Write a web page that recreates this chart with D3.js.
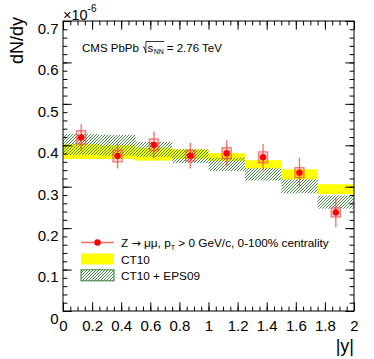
<!DOCTYPE html>
<html>
<head>
<meta charset="utf-8">
<script src="https://cdn.jsdelivr.net/npm/d3@7"></script>
<style>
  body { margin: 0; background: #fff; }
  svg { display: block; font-family: "Liberation Sans", Arial, sans-serif; }
</style>
</head>
<body>
<svg id="chart" width="374" height="359"></svg>
<script>
// data (dN/dy in units of 1e-6)
const binEdges = [0, 0.25, 0.5, 0.75, 1.0, 1.25, 1.5, 1.75, 2.0];
const dataVals = [0.419, 0.374, 0.401, 0.375, 0.381, 0.371, 0.334, 0.238];
const statErr = [0.032, 0.030, 0.032, 0.031, 0.031, 0.032, 0.036, 0.036];
const systErr = [0.016, 0.014, 0.014, 0.013, 0.013, 0.013, 0.012, 0.011];
const ct10Lo = [0.367, 0.367, 0.363, 0.367, 0.362, 0.344, 0.318, 0.282];
const ct10Hi = [0.403, 0.400, 0.394, 0.390, 0.381, 0.364, 0.342, 0.306];
const epsLo = [0.377, 0.375, 0.372, 0.357, 0.338, 0.315, 0.284, 0.247];
const epsHi = [0.427, 0.425, 0.408, 0.390, 0.370, 0.345, 0.318, 0.279];
const xTicks = [0, 0.2, 0.4, 0.6, 0.8, 1, 1.2, 1.4, 1.6, 1.8, 2];
const yTicks = [0, 0.1, 0.2, 0.3, 0.4, 0.5, 0.6, 0.7];
const legendLabels = ["Z \u2192 \u03bc\u03bc, p", "CT10", "CT10 + EPS09"];

const svg = d3.select("#chart");
const pLeft = 63, pRight = 354, pTop = 21, pBottom = 311;

const x = d3.scaleLinear().domain([0, 2]).range([pLeft, pRight]);
const y = d3.scaleLinear().domain([0, 0.7]).range([pBottom, pTop]);

// hatch pattern
const defs = svg.append("defs");
defs.append("pattern")
  .attr("id", "hatch")
  .attr("patternUnits", "userSpaceOnUse")
  .attr("width", 3)
  .attr("height", 3)
  .append("path")
  .attr("d", "M-0.75,0.75 L0.75,-0.75 M0,3 L3,0 M2.25,3.75 L3.75,2.25")
  .attr("stroke", "#2f7d32")
  .attr("stroke-width", 0.9);

const bins = d3.range(dataVals.length);

// CT10 band
svg.append("g").selectAll("rect").data(bins).join("rect")
  .attr("x", i => x(binEdges[i]))
  .attr("width", i => x(binEdges[i + 1]) - x(binEdges[i]))
  .attr("y", i => y(ct10Hi[i]))
  .attr("height", i => y(ct10Lo[i]) - y(ct10Hi[i]))
  .attr("fill", "#ffff00");

// CT10 + EPS09 hatched band
svg.append("g").selectAll("rect").data(bins).join("rect")
  .attr("x", i => x(binEdges[i]))
  .attr("width", i => x(binEdges[i + 1]) - x(binEdges[i]))
  .attr("y", i => y(epsHi[i]))
  .attr("height", i => y(epsLo[i]) - y(epsHi[i]))
  .attr("fill", "url(#hatch)");

// data points
const cx = i => x((binEdges[i] + binEdges[i + 1]) / 2);
const pts = svg.append("g");
pts.selectAll("line").data(bins).join("line")
  .attr("x1", cx).attr("x2", cx)
  .attr("y1", i => y(dataVals[i] + statErr[i]))
  .attr("y2", i => y(dataVals[i] - statErr[i]))
  .attr("stroke", "#ff4040").attr("stroke-opacity", 0.8).attr("stroke-width", 1.3);
pts.selectAll("rect").data(bins).join("rect")
  .attr("x", i => cx(i) - 4.5).attr("width", 9)
  .attr("y", i => y(dataVals[i] + systErr[i]))
  .attr("height", i => y(dataVals[i] - systErr[i]) - y(dataVals[i] + systErr[i]))
  .attr("fill", "#ff0000").attr("fill-opacity", 0.12)
  .attr("stroke", "#f05050").attr("stroke-opacity", 0.7).attr("stroke-width", 1.5);
pts.selectAll("circle").data(bins).join("circle")
  .attr("cx", cx).attr("cy", i => y(dataVals[i]))
  .attr("r", 3.2).attr("fill", "#ff0000");

// axes (ROOT style: ticks inside on all four sides)
function addAxis(axis, tx, ty, major, minor, labels) {
  const g = svg.append("g").attr("transform", `translate(${tx},${ty})`);
  g.call(axis.tickValues(minor).tickSize(-4.4).tickFormat(""));
  g.select(".domain").remove();
  const g2 = svg.append("g").attr("transform", `translate(${tx},${ty})`);
  g2.call(axis.tickValues(major).tickSize(-8.7).tickFormat(labels ? d3.format("") : ""));
  g2.select(".domain").remove();
  return g2;
}
const yMinor = d3.range(0, 0.7001, 0.02).map(v => +v.toFixed(2));
const xMinor = d3.range(0, 2.0001, 0.05).map(v => +v.toFixed(2));

const yl = addAxis(d3.axisLeft(y).tickPadding(4.5), pLeft, 0, yTicks, yMinor, true);
yl.selectAll("text").attr("font-size", 15).attr("dy", "0.82em").attr("fill", "#000")
  .attr("font-family", "Liberation Sans, Arial, sans-serif");
addAxis(d3.axisRight(y), pRight, 0, yTicks, yMinor, false);
const xb = addAxis(d3.axisBottom(x).tickPadding(9), 0, pBottom, xTicks, xMinor, true);
xb.selectAll("text").attr("font-size", 15).attr("fill", "#000")
  .attr("font-family", "Liberation Sans, Arial, sans-serif");
addAxis(d3.axisTop(x), 0, pTop, xTicks, xMinor, false);
svg.selectAll(".tick line").attr("stroke", "#000");

svg.append("rect")
  .attr("x", pLeft).attr("y", pTop)
  .attr("width", pRight - pLeft).attr("height", pBottom - pTop)
  .attr("fill", "none").attr("stroke", "#000").attr("stroke-width", 1);

// axis titles
svg.append("text")
  .attr("transform", "translate(23,17) rotate(-90)")
  .attr("text-anchor", "end")
  .attr("font-size", 18)
  .text("dN/dy");

const expT = svg.append("text").attr("x", 63).attr("y", 19.5).attr("font-size", 14.5);
expT.append("tspan").text("\u00d710");
expT.append("tspan").attr("dy", -8).attr("font-size", 10).text("-6");

svg.append("text")
  .attr("x", pRight).attr("y", 352)
  .attr("text-anchor", "end")
  .attr("font-size", 18)
  .text("|y|");

// CMS label with sqrt(s_NN)
const cmsY = 51.5;
const t1 = svg.append("text").attr("x", 82).attr("y", cmsY).attr("font-size", 11.5).text("CMS PbPb");
let cur = 82 + t1.node().getComputedTextLength() + 4;
const rad0 = cur;
const tS = svg.append("text").attr("x", cur + 4.5).attr("y", cmsY).attr("font-size", 11.5).text("s");
let sEnd = cur + 4.5 + tS.node().getComputedTextLength();
const tNN = svg.append("text").attr("x", sEnd + 0.5).attr("y", cmsY + 2.5).attr("font-size", 7).text("NN");
let nnEnd = sEnd + 0.5 + tNN.node().getComputedTextLength();
svg.append("path")
  .attr("d", `M${rad0},${cmsY - 4} L${rad0 + 1.2},${cmsY - 4.8} L${rad0 + 3},${cmsY + 1.5} L${rad0 + 3},${cmsY - 10} L${nnEnd + 0.5},${cmsY - 10}`)
  .attr("fill", "none").attr("stroke", "#000").attr("stroke-width", 0.8);
svg.append("text").attr("x", nnEnd + 3).attr("y", cmsY).attr("font-size", 11.5).text("= 2.76 TeV");

// legend
const legX0 = 81, legX1 = 114, legText = 121;
const rowBase = [246.5, 263.5, 280.3];
svg.append("line")
  .attr("x1", legX0).attr("x2", legX1).attr("y1", rowBase[0] - 4).attr("y2", rowBase[0] - 4)
  .attr("stroke", "#ff4040").attr("stroke-opacity", 0.8).attr("stroke-width", 1.3);
svg.append("circle").attr("cx", (legX0 + legX1) / 2).attr("cy", rowBase[0] - 4).attr("r", 3.2).attr("fill", "#ff0000");
svg.append("rect").attr("x", legX0).attr("y", rowBase[1] - 10).attr("width", legX1 - legX0).attr("height", 11)
  .attr("fill", "#ffff00");
svg.append("rect").attr("x", legX0).attr("y", rowBase[2] - 10.5).attr("width", legX1 - legX0).attr("height", 11)
  .attr("fill", "url(#hatch)").attr("stroke", "#2f7d32").attr("stroke-width", 1);

const [lZ, lRest] = legendLabels[0].split("\u2192");
const l1 = svg.append("text").attr("x", legText).attr("y", rowBase[0]).attr("font-size", 11.8);
l1.append("tspan").text(lZ);
l1.append("tspan").attr("font-family", "DejaVu Sans").attr("font-size", 11).text("\u2192");
l1.append("tspan").text(lRest);
l1.append("tspan").attr("dy", 3).attr("font-size", 7).text("T");
l1.append("tspan").attr("dy", -3).text(" > 0 GeV/c, 0-100% centrality");
svg.append("text").attr("x", legText).attr("y", rowBase[1]).attr("font-size", 11.8).text(legendLabels[1]);
svg.append("text").attr("x", legText).attr("y", rowBase[2]).attr("font-size", 11.8).text(legendLabels[2]);
</script>
</body>
</html>
